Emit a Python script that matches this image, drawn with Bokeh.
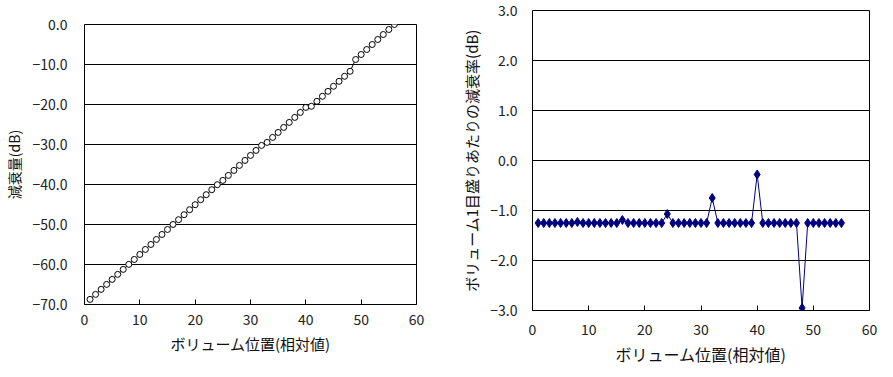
from bokeh.plotting import figure
from bokeh.layouts import row
from bokeh.models import FixedTicker, ColumnDataSource, CustomJSTickFormatter
from bokeh.embed import file_html
from bokeh.resources import INLINE

# ---- data ----
positions = list(range(1, 57))
attenuation = [
    -68.72, -67.47, -66.22, -64.97, -63.72, -62.47, -61.22, -59.97,
    -58.74, -57.49, -56.24, -54.99, -53.74, -52.49, -51.24, -49.99,
    -48.80, -47.55, -46.30, -45.05, -43.80, -42.55, -41.30, -40.05,
    -38.98, -37.73, -36.48, -35.23, -33.98, -32.73, -31.48, -30.23,
    -29.48, -28.23, -26.98, -25.73, -24.48, -23.23, -21.98, -20.73,
    -20.45, -19.20, -17.95, -16.70, -15.45, -14.20, -12.95, -11.70,
    -8.75, -7.50, -6.25, -5.00, -3.75, -2.50, -1.25, 0.00,
]
rate_positions = list(range(1, 56))
rate = [
    -1.25, -1.25, -1.25, -1.25, -1.25, -1.25, -1.25, -1.23,
    -1.25, -1.25, -1.25, -1.25, -1.25, -1.25, -1.25, -1.19,
    -1.25, -1.25, -1.25, -1.25, -1.25, -1.25, -1.25, -1.07,
    -1.25, -1.25, -1.25, -1.25, -1.25, -1.25, -1.25, -0.75,
    -1.25, -1.25, -1.25, -1.25, -1.25, -1.25, -1.25, -0.28,
    -1.25, -1.25, -1.25, -1.25, -1.25, -1.25, -1.25, -2.95,
    -1.25, -1.25, -1.25, -1.25, -1.25, -1.25, -1.25,
]
x_ticks = [0, 10, 20, 30, 40, 50, 60]
left_y_ticks = [-70, -60, -50, -40, -30, -20, -10, 0]
right_y_ticks = [-3, -2, -1, 0, 1, 2, 3]
x_label = "ボリューム位置(相対値)"
left_y_label = "減衰量(dB)"
right_y_label = "ボリューム1目盛りあたりの減衰率(dB)"

FONT = "Noto Sans CJK JP"

yfmt_code = "return (tick < 0 ? '\u2212' : '') + Math.abs(tick).toFixed(1);"


def style(p, yticks):
    p.frame_align = False
    p.outline_line_color = "black"
    p.outline_line_width = 1
    p.background_fill_color = "white"
    p.border_fill_color = "white"
    p.xgrid.visible = False
    p.ygrid.ticker = FixedTicker(ticks=yticks)
    p.ygrid.grid_line_color = "black"
    p.ygrid.grid_line_width = 1
    p.xaxis.ticker = FixedTicker(ticks=x_ticks)
    p.yaxis.ticker = FixedTicker(ticks=yticks)
    p.yaxis.formatter = CustomJSTickFormatter(code=yfmt_code)
    for ax in (p.xaxis, p.yaxis):
        ax.axis_line_color = None
        ax.minor_tick_line_color = None
        ax.major_label_text_font = FONT
        ax.major_label_text_font_size = "14px"
        ax.major_label_text_color = "#222222"
        ax.axis_label_text_font = FONT
        ax.axis_label_text_font_style = "normal"
        ax.axis_label_text_color = "#111111"
    p.xaxis.major_tick_in = 5
    p.xaxis.major_tick_out = 0
    p.xaxis.major_tick_line_color = "black"
    p.yaxis.major_tick_line_color = None
    p.yaxis.major_tick_in = 0
    p.yaxis.major_tick_out = 0


# ---- left chart ----
p1 = figure(width=440, height=377,
            x_range=(0, 60), y_range=(-70, 0),
            output_backend="svg", toolbar_location=None,
            min_border_left=82, min_border_right=24,
            min_border_top=24, min_border_bottom=73)
style(p1, left_y_ticks)
p1.xaxis.axis_label = x_label
p1.yaxis.axis_label = left_y_label
p1.xaxis.axis_label_text_font_size = "15px"
p1.yaxis.axis_label_text_font_size = "14px"
p1.yaxis.major_label_standoff = 17
p1.xaxis.major_label_standoff = 9
p1.xaxis.axis_label_standoff = 5
p1.yaxis.axis_label_standoff = 6
src1 = ColumnDataSource(dict(x=positions, y=attenuation))
p1.line("x", "y", source=src1, line_color="black", line_width=1)
p1.scatter("x", "y", source=src1, marker="circle", size=6,
           fill_color="white", line_color="black", line_width=1)

# ---- right chart ----
p2 = figure(width=453, height=377,
            x_range=(0, 60), y_range=(-3, 3),
            output_backend="svg", toolbar_location=None,
            min_border_left=92, min_border_right=24,
            min_border_top=10, min_border_bottom=67)
style(p2, right_y_ticks)
p2.xaxis.axis_label = x_label
p2.yaxis.axis_label = right_y_label
p2.xaxis.axis_label_text_font_size = "16px"
p2.yaxis.axis_label_text_font_size = "15px"
p2.yaxis.major_label_standoff = 15
p2.xaxis.major_label_standoff = 13
p2.xaxis.axis_label_standoff = 4
p2.yaxis.axis_label_standoff = 5
src2 = ColumnDataSource(dict(x=rate_positions, y=rate))
p2.line("x", "y", source=src2, line_color="#000080", line_width=1)
p2.scatter("x", "y", source=src2, marker="diamond", size=9,
           fill_color="#000080", line_color="#000080")

layout = row(p1, p2, spacing=0)
open("out.html", "w").write(file_html(layout, INLINE))
